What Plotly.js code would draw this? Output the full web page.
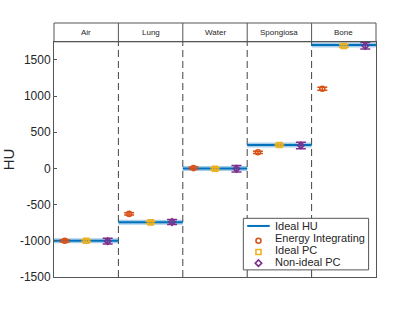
<!DOCTYPE html>
<html><head><meta charset="utf-8">
<script src="https://cdn.plot.ly/plotly-3.0.1.min.js"></script>
<style>html,body{margin:0;padding:0;background:#fff}#c{width:415px;height:312px}</style>
</head><body><div id="c"></div>
<script>
var categories = ['Air','Lung','Water','Spongiosa','Bone'];
var idealHU = [-1000, -745, 0, 324, 1705];
var energyIntegrating = [-1000, -628, 5, 223, 1101];
var energyIntegratingErr = [15, 15, 15, 15, 20];
var idealPC = [-1000, -745, -5, 324, 1692];
var idealPCErr = [15, 15, 15, 15, 20];
var nonIdealPC = [-1005, -740, -5, 318, 1695];
var nonIdealPCErr = [40, 35, 45, 45, 45];
var yTicks = [-1500, -1000, -500, 0, 500, 1000, 1500];
var legendNames = ['Ideal HU', 'Energy Integrating', 'Ideal PC', 'Non-ideal PC'];

var cBlue = '#0072BD', cOrange = '#D95319', cYellow = '#EDB120', cPurple = '#7E2F8E';
var n = categories.length;
var hdr = 0.926;

function xs(off){ return categories.map(function(_, i){ return i + off; }); }

var ix = [], iy = [];
categories.forEach(function(_, i){ ix.push(i, i + 1, null); iy.push(idealHU[i], idealHU[i], null); });

function pts(vals, errs, off, color, sym){
  return {x: xs(off), y: vals, type: 'scatter', mode: 'markers', showlegend: false, hoverinfo: 'none',
    marker: {symbol: sym, size: 5, color: color, line: {color: color, width: 1.6}},
    error_y: {type: 'data', array: errs, visible: true, color: color, thickness: 1.5, width: 5}};
}

var traces = [
  {x: ix, y: iy, type: 'scatter', mode: 'lines', showlegend: false, hoverinfo: 'none', line: {color: 'rgba(0,114,189,0.35)', width: 5}},
  {x: ix, y: iy, type: 'scatter', mode: 'lines', showlegend: false, hoverinfo: 'none', line: {color: cBlue, width: 2}},
  pts(energyIntegrating, energyIntegratingErr, 1/6, cOrange, 'circle-open'),
  pts(idealPC, idealPCErr, 1/2, cYellow, 'square-open'),
  pts(nonIdealPC, nonIdealPCErr, 5/6, cPurple, 'diamond-open')
];

var lgX0 = 0.588, lgX1 = 0.977, lgY1 = 0.231, lgY0 = 0.028;
var rowY = [0.201, 0.154, 0.106, 0.059];
var symX = 0.635;
traces.push({x: [symX, symX, symX], y: rowY.slice(1), xaxis: 'x2', yaxis: 'y2', type: 'scatter', mode: 'markers',
  showlegend: false, hoverinfo: 'none',
  marker: {symbol: ['circle-open', 'square-open', 'diamond-open'], size: 5,
    color: [cOrange, cYellow, cPurple], line: {color: [cOrange, cYellow, cPurple], width: 1.6}}});

var shapes = [];
for (var i = 1; i < n; i++) {
  shapes.push({type: 'line', xref: 'x', yref: 'paper', x0: i, x1: i, y0: 0, y1: hdr, layer: 'below', line: {color: '#444', width: 1, dash: '7px,4px'}});
}
shapes.push({type: 'rect', xref: 'paper', yref: 'paper', x0: lgX0, x1: lgX1, y0: lgY0, y1: lgY1, line: {color: '#555', width: 1}, fillcolor: '#fff', layer: 'below'});
shapes.push({type: 'line', xref: 'paper', yref: 'paper', x0: 0.600, x1: 0.670, y0: rowY[0], y1: rowY[0], line: {color: cBlue, width: 2}, layer: 'above'});
shapes.push({type: 'rect', xref: 'paper', yref: 'paper', x0: 0, x1: 1, y0: hdr, y1: 1, line: {color: '#555', width: 1}, fillcolor: 'rgba(0,0,0,0)'});
for (var j = 1; j < n; j++) {
  shapes.push({type: 'line', xref: 'x', yref: 'paper', x0: j, x1: j, y0: hdr, y1: 1, line: {color: '#555', width: 1}});
}

var annotations = categories.map(function(c, i){
  return {x: i + 0.5, y: (hdr + 1) / 2, xref: 'x', yref: 'paper', text: c, showarrow: false,
    font: {family: 'Liberation Sans, Arial, sans-serif', size: 8, color: '#262626'}, xanchor: 'center', yanchor: 'middle'};
});
legendNames.forEach(function(t, k){
  annotations.push({x: 0.680, y: rowY[k], xref: 'paper', yref: 'paper', text: t, showarrow: false,
    font: {family: 'Liberation Sans, Arial, sans-serif', size: 11, color: '#262626'}, xanchor: 'left', yanchor: 'middle'});
});

var layout = {
  width: 415, height: 312,
  margin: {l: 54, r: 39, t: 23, b: 35, pad: 0},
  paper_bgcolor: '#fff', plot_bgcolor: '#fff',
  showlegend: false,
  xaxis: {range: [0, n], showticklabels: false, ticks: '', showgrid: false, zeroline: false,
    showline: true, mirror: true, linecolor: '#555', linewidth: 1, fixedrange: true},
  yaxis: {domain: [0, hdr], range: [-1500, 1750], tickvals: yTicks, ticktext: yTicks.map(String),
    ticks: 'inside', ticklen: 3, tickcolor: '#555', showgrid: false, zeroline: false,
    showline: true, mirror: true, linecolor: '#555', linewidth: 1,
    tickfont: {family: 'Liberation Sans, Arial, sans-serif', size: 12, color: '#262626'},
    title: {text: 'HU', standoff: 6, font: {family: 'Liberation Sans, Arial, sans-serif', size: 15, color: '#262626'}}},
  xaxis2: {domain: [0, 1], range: [0, 1], anchor: 'y2', overlaying: 'x', visible: false, fixedrange: true},
  yaxis2: {domain: [0, 1], range: [0, 1], anchor: 'x2', overlaying: 'y', visible: false, fixedrange: true},
  shapes: shapes,
  annotations: annotations
};

Plotly.newPlot('c', traces, layout, {displayModeBar: false, staticPlot: true});
</script></body></html>
